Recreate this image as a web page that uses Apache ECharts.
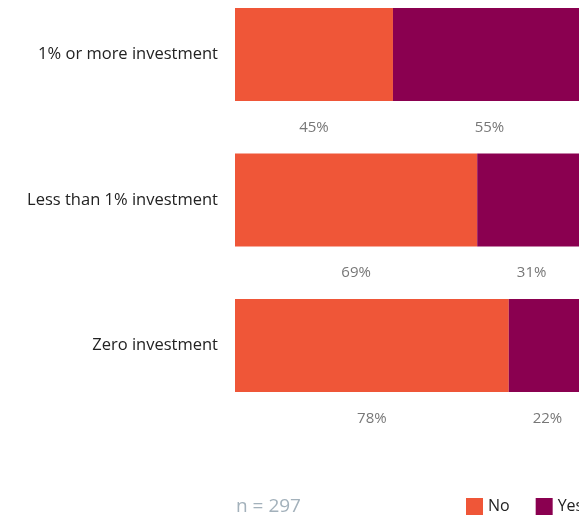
<!DOCTYPE html>
<html>
<head>
<meta charset="utf-8">
<script src="https://cdn.jsdelivr.net/npm/echarts@6/dist/echarts.min.js"></script>
<style>
  html, body { margin: 0; padding: 0; background: #fff; }
  #chart { width: 579px; height: 520px; }
</style>
</head>
<body>
<div id="chart"></div>
<script>
// categories top to bottom
const categories = ["1% or more investment", "Less than 1% investment", "Zero investment"];
const noValues = [45, 69, 78];
const yesValues = [55, 31, 22];
const sampleNote = "n = 297";

let chart = echarts.init(document.getElementById("chart"));

const pctLabel = {
  show: true,
  position: "bottom",
  distance: 19,
  formatter: "{c}%",
  color: "#777777",
  fontSize: 15,
  fontFamily: "Open Sans"
};

let option = {
  animation: false,
  textStyle: { fontFamily: "Open Sans" },
  color: ["#EF5638", "#8A0050"],
  grid: {
    left: 235,
    right: 0,
    top: 54.5,
    height: 291
  },
  legend: {
    left: 466,
    top: 498,
    width: 300,
    padding: 0,
    itemWidth: 17,
    itemHeight: 17,
    itemGap: 26,
    icon: "rect",
    textStyle: { color: "#222222", fontSize: 16, fontFamily: "Open Sans" },
    data: ["No", "Yes"]
  },
  graphic: [
    {
      type: "text",
      left: 236,
      top: 497,
      style: {
        text: sampleNote,
        fill: "#A3B1BB",
        fontSize: 19,
        fontFamily: "Open Sans"
      }
    }
  ],
  xAxis: {
    type: "value",
    min: 0,
    max: 98,   // chart is cropped at the right edge
    show: false
  },
  yAxis: {
    type: "category",
    data: categories,
    inverse: true,
    boundaryGap: false,
    axisLine: { show: false },
    axisTick: { show: false },
    splitLine: { show: false },
    axisLabel: {
      margin: 17,
      color: "#222222",
      fontSize: 16.5,
      fontFamily: "Open Sans"
    }
  },
  series: [
    {
      name: "No",
      type: "bar",
      stack: "total",
      barWidth: 93,
      clip: false,
      data: noValues,
      label: pctLabel
    },
    {
      name: "Yes",
      type: "bar",
      stack: "total",
      barWidth: 93,
      clip: false,
      data: yesValues,
      label: pctLabel
    }
  ]
};

chart.setOption(option);
</script>
</body>
</html>
